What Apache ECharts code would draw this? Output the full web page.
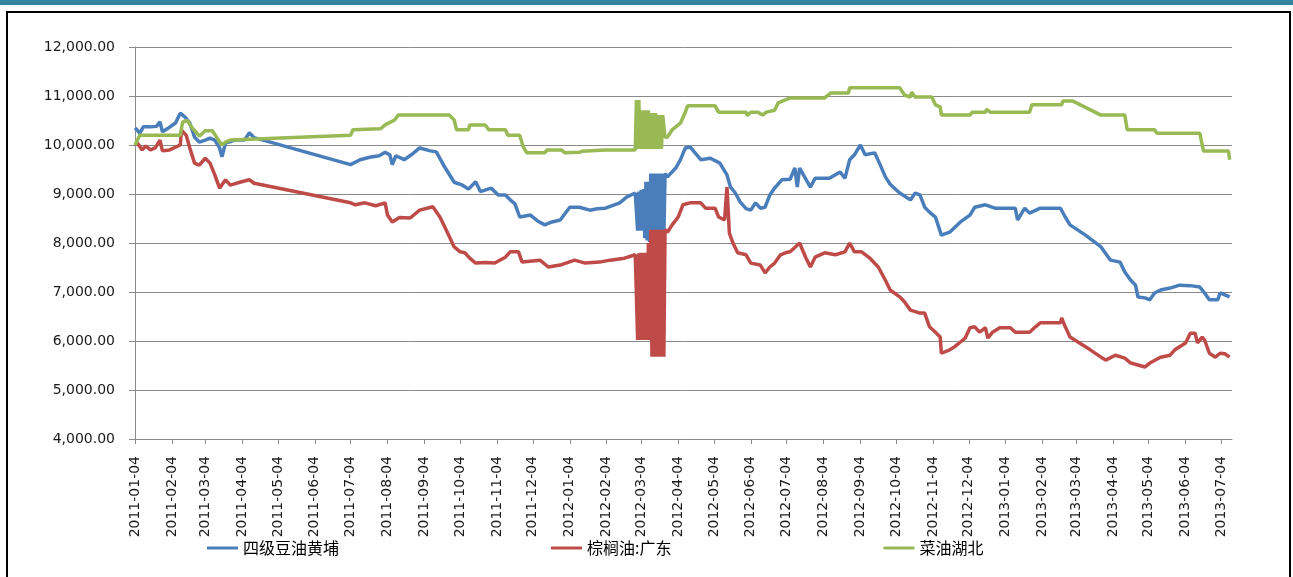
<!DOCTYPE html>
<html>
<head>
<meta charset="utf-8" />
<title>油脂现货价格</title>
<script type="text/javascript" src="https://cdn.jsdelivr.net/npm/echarts@6.0.0/dist/echarts.min.js"></script>
<style>
    html, body { margin: 0; padding: 0; background: #fff; }
    #container { width: 1293px; height: 577px; }
</style>
</head>
<body>
<div id="container"></div>
<script type="text/javascript">
// 图例名称
var seriesNames = ['四级豆油黄埔', '棕榈油:广东', '菜油湖北'];
var seriesColors = ['#4a7ebb', '#be4b48', '#98b954'];

// 纵轴刻度
var yMin = 4000, yMax = 12000, yStep = 1000;

// 横轴：逐日日期，每月4日显示刻度
var firstDay = '2011-01-04', lastDay = '2013-07-13';

// 四级豆油黄埔（2012年3月两组报价交替）
var soyHuangpu = [
    ['2011-01-04',10350],['2011-01-06',10300],['2011-01-08',10240],['2011-01-11',10370],['2011-01-17',10370],
    ['2011-01-22',10380],['2011-01-25',10470],['2011-01-27',10270],['2011-01-31',10330],['2011-02-07',10450],
    ['2011-02-11',10650],['2011-02-15',10570],['2011-02-19',10450],['2011-02-23',10160],['2011-02-27',10060],
    ['2011-03-04',10100],['2011-03-08',10140],['2011-03-12',10100],['2011-03-16',9940],['2011-03-18',9760],
    ['2011-03-21',10040],['2011-03-29',10100],['2011-04-06',10100],['2011-04-10',10250],['2011-04-14',10150],
    ['2011-07-04',9600],['2011-07-12',9700],['2011-07-20',9750],['2011-07-28',9780],['2011-08-02',9850],
    ['2011-08-06',9800],['2011-08-08',9600],['2011-08-11',9780],['2011-08-18',9700],['2011-08-24',9800],
    ['2011-08-31',9940],['2011-09-09',9880],['2011-09-14',9860],['2011-09-21',9550],['2011-09-29',9240],
    ['2011-10-06',9180],['2011-10-11',9100],['2011-10-17',9250],['2011-10-21',9050],['2011-10-30',9120],
    ['2011-11-05',8980],['2011-11-11',8980],['2011-11-15',8880],['2011-11-19',8800],['2011-11-23',8530],
    ['2011-12-02',8570],['2011-12-08',8450],['2011-12-14',8370],['2011-12-20',8430],['2011-12-27',8470],
    ['2012-01-04',8730],['2012-01-12',8730],['2012-01-21',8670],['2012-01-27',8700],['2012-02-03',8710],
    ['2012-02-15',8820],['2012-02-21',8940],['2012-02-28',9020],
    ['2012-02-29',9050],['2012-03-01',8250],['2012-03-02',9050],['2012-03-03',8250],['2012-03-04',9080],
    ['2012-03-05',8250],['2012-03-06',9100],['2012-03-07',8100],['2012-03-08',9250],['2012-03-09',8050],
    ['2012-03-10',9250],['2012-03-11',8020],['2012-03-12',9420],['2012-03-13',8100],['2012-03-14',9420],
    ['2012-03-15',8100],['2012-03-16',9420],['2012-03-17',8100],['2012-03-18',9420],['2012-03-19',8100],
    ['2012-03-20',9420],['2012-03-21',8100],['2012-03-22',9420],['2012-03-23',8100],['2012-03-24',9420],
    ['2012-03-26',9350],['2012-04-02',9530],['2012-04-06',9700],['2012-04-10',9940],['2012-04-14',9960],
    ['2012-04-23',9700],['2012-05-01',9730],['2012-05-09',9630],['2012-05-15',9390],['2012-05-18',9140],
    ['2012-05-22',9020],['2012-05-26',8840],['2012-05-31',8700],['2012-06-04',8670],['2012-06-08',8820],
    ['2012-06-12',8710],['2012-06-16',8730],['2012-06-20',8980],['2012-06-24',9120],['2012-06-30',9290],
    ['2012-07-07',9300],['2012-07-11',9530],['2012-07-13',9140],['2012-07-15',9530],['2012-07-24',9140],
    ['2012-07-28',9320],['2012-08-09',9320],['2012-08-18',9450],['2012-08-22',9320],['2012-08-26',9700],
    ['2012-08-30',9800],['2012-09-04',10000],['2012-09-08',9800],['2012-09-16',9840],['2012-09-20',9630],
    ['2012-09-25',9350],['2012-09-29',9200],['2012-10-07',9020],['2012-10-16',8880],['2012-10-20',9020],
    ['2012-10-24',8980],['2012-10-28',8730],['2012-11-01',8630],['2012-11-06',8530],['2012-11-11',8160],
    ['2012-11-18',8220],['2012-11-27',8430],['2012-12-05',8570],['2012-12-09',8730],['2012-12-18',8780],
    ['2012-12-26',8710],['2013-01-12',8710],['2013-01-14',8470],['2013-01-20',8710],['2013-01-24',8610],
    ['2013-02-02',8710],['2013-02-19',8710],['2013-02-23',8530],['2013-02-27',8370],['2013-03-12',8160],
    ['2013-03-25',7920],['2013-04-02',7650],['2013-04-10',7610],['2013-04-14',7410],['2013-04-19',7240],
    ['2013-04-23',7140],['2013-04-25',6900],['2013-05-01',6880],['2013-05-05',6840],['2013-05-09',6980],
    ['2013-05-14',7040],['2013-05-22',7080],['2013-05-30',7140],['2013-06-08',7130],['2013-06-16',7100],
    ['2013-06-20',6980],['2013-06-24',6840],['2013-07-01',6840],['2013-07-03',6980],['2013-07-07',6940],
    ['2013-07-11',6900]
];

// 棕榈油:广东
var palmGuangdong = [
    ['2011-01-04',10000],['2011-01-06',10040],['2011-01-10',9900],['2011-01-13',9980],['2011-01-17',9900],
    ['2011-01-21',9940],['2011-01-25',10100],['2011-01-27',9880],['2011-02-02',9900],['2011-02-11',10000],
    ['2011-02-12',10300],['2011-02-16',10200],['2011-02-19',9940],['2011-02-23',9630],['2011-02-27',9590],
    ['2011-03-04',9730],['2011-03-08',9630],['2011-03-12',9390],['2011-03-16',9120],['2011-03-21',9290],
    ['2011-03-25',9180],['2011-04-02',9240],['2011-04-10',9290],['2011-04-14',9220],['2011-07-04',8820],
    ['2011-07-08',8780],['2011-07-16',8820],['2011-07-25',8760],['2011-08-02',8820],['2011-08-04',8570],
    ['2011-08-08',8430],['2011-08-14',8520],['2011-08-23',8510],['2011-08-31',8670],['2011-09-11',8740],
    ['2011-09-17',8530],['2011-09-21',8330],['2011-09-29',7920],['2011-10-04',7820],['2011-10-08',7800],
    ['2011-10-12',7690],['2011-10-17',7590],['2011-10-25',7600],['2011-11-02',7590],['2011-11-11',7710],
    ['2011-11-15',7820],['2011-11-22',7820],['2011-11-25',7610],['2011-12-10',7650],['2011-12-17',7510],
    ['2011-12-27',7550],['2012-01-08',7650],['2012-01-17',7590],['2012-01-29',7610],['2012-02-07',7650],
    ['2012-02-19',7690],['2012-02-28',7760],
    ['2012-02-29',7790],['2012-03-01',6020],['2012-03-02',7790],['2012-03-03',6020],['2012-03-04',7800],
    ['2012-03-05',6020],['2012-03-06',7800],['2012-03-07',6020],['2012-03-08',7800],['2012-03-09',6020],
    ['2012-03-10',8000],['2012-03-11',6020],['2012-03-12',8270],['2012-03-13',5680],['2012-03-14',8270],
    ['2012-03-15',5680],['2012-03-16',8270],['2012-03-17',5680],['2012-03-18',8270],['2012-03-19',5680],
    ['2012-03-20',8270],['2012-03-21',5680],['2012-03-22',8270],['2012-03-23',5680],['2012-03-24',8270],
    ['2012-03-26',8220],['2012-03-30',8370],['2012-04-04',8530],['2012-04-08',8780],['2012-04-14',8820],
    ['2012-04-23',8820],['2012-04-27',8710],['2012-05-05',8710],['2012-05-08',8530],['2012-05-13',8470],
    ['2012-05-15',9140],['2012-05-17',8200],['2012-05-20',8000],['2012-05-24',7800],['2012-05-31',7760],
    ['2012-06-04',7590],['2012-06-12',7550],['2012-06-16',7390],['2012-06-20',7510],['2012-06-24',7590],
    ['2012-06-29',7760],['2012-07-03',7800],['2012-07-07',7820],['2012-07-15',8000],['2012-07-20',7710],
    ['2012-07-24',7510],['2012-07-28',7710],['2012-08-05',7800],['2012-08-14',7760],['2012-08-22',7820],
    ['2012-08-26',8000],['2012-08-30',7820],['2012-09-05',7820],['2012-09-12',7690],['2012-09-19',7510],
    ['2012-09-25',7240],['2012-09-29',7040],['2012-10-07',6900],['2012-10-11',6800],['2012-10-16',6630],
    ['2012-10-24',6570],['2012-10-28',6570],['2012-11-01',6290],['2012-11-06',6180],['2012-11-10',6080],
    ['2012-11-11',5750],['2012-11-18',5820],['2012-11-22',5880],['2012-11-27',5980],['2012-12-01',6060],
    ['2012-12-05',6270],['2012-12-09',6290],['2012-12-13',6180],['2012-12-18',6270],['2012-12-20',6060],
    ['2012-12-24',6180],['2012-12-30',6270],['2013-01-08',6270],['2013-01-12',6180],['2013-01-24',6180],
    ['2013-01-29',6290],['2013-02-02',6370],['2013-02-19',6370],['2013-02-20',6470],['2013-02-23',6290],
    ['2013-02-27',6080],['2013-03-16',5820],['2013-03-25',5670],['2013-03-29',5610],['2013-04-06',5710],
    ['2013-04-14',5650],['2013-04-19',5550],['2013-05-01',5470],['2013-05-05',5550],['2013-05-14',5670],
    ['2013-05-22',5710],['2013-05-26',5820],['2013-06-04',5960],['2013-06-08',6160],['2013-06-12',6160],
    ['2013-06-14',5960],['2013-06-18',6080],['2013-06-20',6020],['2013-06-24',5750],['2013-06-29',5670],
    ['2013-07-03',5750],['2013-07-07',5740],['2013-07-11',5670]
];

// 菜油湖北
var rapeHubei = [
    ['2011-01-04',10000],['2011-01-08',10200],['2011-02-11',10200],['2011-02-13',10470],['2011-02-17',10500],
    ['2011-02-21',10350],['2011-02-25',10240],['2011-02-27',10180],['2011-03-04',10290],['2011-03-10',10290],
    ['2011-03-14',10140],['2011-03-18',10000],['2011-03-21',10060],['2011-03-25',10100],['2011-07-04',10200],
    ['2011-07-06',10310],['2011-07-29',10330],['2011-08-02',10410],['2011-08-10',10510],['2011-08-13',10610],
    ['2011-09-25',10610],['2011-09-29',10510],['2011-10-01',10310],['2011-10-11',10310],['2011-10-12',10410],
    ['2011-10-25',10410],['2011-10-28',10310],['2011-11-11',10310],['2011-11-13',10200],['2011-11-23',10200],
    ['2011-11-26',9960],['2011-11-29',9840],['2011-12-14',9840],['2011-12-16',9900],['2011-12-28',9900],
    ['2011-12-31',9840],['2012-01-12',9850],['2012-01-14',9870],['2012-02-03',9900],['2012-02-28',9900],
    ['2012-02-29',10920],['2012-03-01',9920],['2012-03-02',10920],['2012-03-03',9920],['2012-03-04',10710],
    ['2012-03-05',9920],['2012-03-06',10710],['2012-03-07',9920],['2012-03-08',10710],['2012-03-09',9920],
    ['2012-03-10',10710],['2012-03-11',9920],['2012-03-12',10650],['2012-03-13',9920],['2012-03-14',10650],
    ['2012-03-15',9920],['2012-03-16',10650],['2012-03-17',9920],['2012-03-18',10610],['2012-03-19',9920],
    ['2012-03-20',10610],['2012-03-21',9920],['2012-03-22',10610],
    ['2012-03-24',10160],['2012-03-26',10160],['2012-03-30',10310],['2012-04-06',10450],['2012-04-10',10670],
    ['2012-04-12',10800],['2012-05-05',10800],['2012-05-08',10670],['2012-05-31',10670],['2012-06-01',10600],
    ['2012-06-04',10670],['2012-06-10',10670],['2012-06-14',10610],['2012-06-17',10670],['2012-06-24',10710],
    ['2012-06-27',10860],['2012-07-03',10920],['2012-07-07',10960],['2012-08-05',10960],['2012-08-10',11060],
    ['2012-08-25',11060],['2012-08-26',11170],['2012-10-07',11170],['2012-10-11',11020],['2012-10-16',10980],
    ['2012-10-17',11080],['2012-10-20',10980],['2012-11-03',10980],['2012-11-06',10820],['2012-11-10',10780],
    ['2012-11-11',10610],['2012-12-05',10610],['2012-12-07',10670],['2012-12-18',10670],['2012-12-19',10730],
    ['2012-12-22',10670],['2013-01-24',10670],['2013-01-26',10820],['2013-02-20',10820],['2013-02-21',10900],
    ['2013-03-01',10900],['2013-03-25',10610],['2013-04-14',10610],['2013-04-16',10310],['2013-05-09',10310],
    ['2013-05-11',10240],['2013-06-16',10240],['2013-06-19',9880],['2013-07-10',9880],['2013-07-11',9700]
];

var days = [];
var cur = new Date(firstDay + 'T00:00:00Z');
var stop = new Date(lastDay + 'T00:00:00Z');
while (cur <= stop) {
    days.push(cur.toISOString().slice(0, 10));
    cur.setUTCDate(cur.getUTCDate() + 1);
}
function isMonthTick(idx, value) {
    return value.slice(8) === '04';
}

var myChart = echarts.init(document.getElementById('container'));
var axisFont = 'DejaVu Sans';
var cjkFont = 'Noto Sans CJK SC';
var lineW = 3.5;

var option = {
    animation: false,
    backgroundColor: '#fff',
    color: seriesColors,
    graphic: [
        { type: 'rect', shape: { x: 0, y: 0, width: 1293, height: 5 }, style: { fill: '#31849b' } },
        { type: 'rect', shape: { x: 7, y: 12, width: 1283, height: 600 }, style: { fill: null, stroke: '#000', lineWidth: 2 } }
    ],
    grid: { left: 135, right: 61, top: 47, bottom: 138 },
    legend: {
        left: 207,
        top: 540,
        padding: 0,
        icon: 'rect',
        itemWidth: 31,
        itemHeight: 3,
        itemGap: 212,
        textStyle: { fontFamily: cjkFont, fontSize: 16, color: '#000' },
        data: seriesNames
    },
    xAxis: {
        type: 'category',
        boundaryGap: false,
        data: days,
        axisLine: { lineStyle: { color: '#8a8a8a', width: 1 } },
        axisTick: { interval: isMonthTick, length: 5, lineStyle: { color: '#8a8a8a' } },
        axisLabel: {
            interval: isMonthTick,
            rotate: 90,
            margin: 17,
            color: '#1a1a1a',
            fontFamily: axisFont,
            fontSize: 14
        },
        splitLine: { show: false }
    },
    yAxis: {
        type: 'value',
        min: yMin,
        max: yMax,
        interval: yStep,
        axisLine: { show: true, lineStyle: { color: '#8a8a8a', width: 1 } },
        axisTick: { show: true, length: 6, lineStyle: { color: '#8a8a8a' } },
        axisLabel: {
            margin: 20,
            color: '#1a1a1a',
            fontFamily: axisFont,
            fontSize: 14,
            formatter: function (v) {
                return v.toLocaleString('en-US', { minimumFractionDigits: 2, maximumFractionDigits: 2 });
            }
        },
        splitLine: { lineStyle: { color: '#8a8a8a', width: 1 } }
    },
    series: [
        { name: seriesNames[0], type: 'line', symbol: 'none', data: soyHuangpu, lineStyle: { width: lineW } },
        { name: seriesNames[1], type: 'line', symbol: 'none', data: palmGuangdong, lineStyle: { width: lineW } },
        { name: seriesNames[2], type: 'line', symbol: 'none', data: rapeHubei, lineStyle: { width: lineW } }
    ]
};
myChart.setOption(option);
</script>
</body>
</html>
